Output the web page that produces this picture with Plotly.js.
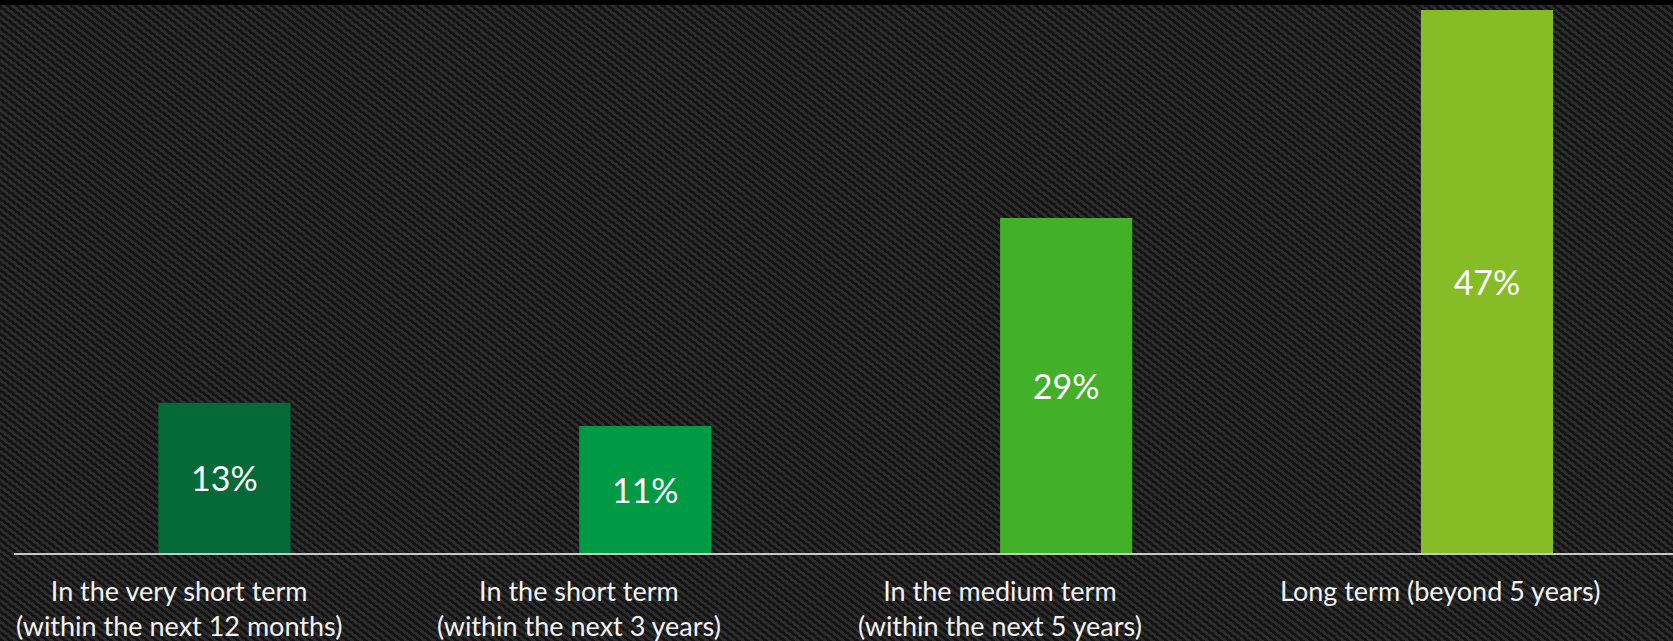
<!DOCTYPE html>
<html>
<head>
<meta charset="utf-8">
<script src="https://cdn.plot.ly/plotly-3.0.1.min.js"></script>
<style>
  html, body { margin: 0; padding: 0; background: #111; }
  #wrap {
    position: relative; width: 1673px; height: 641px; overflow: hidden;
    background: repeating-linear-gradient(38deg, #141414 0px, #141414 2.8px, #2d2d2d 2.8px, #2d2d2d 5.6px);
  }
  #topbar { position: absolute; left: 0; top: 0; width: 1673px; height: 5px; background: #000; z-index: 2; }
  #chart { position: absolute; left: 0; top: 0; width: 1673px; height: 641px; }
</style>
</head>
<body>
<div id="wrap">
  <div id="topbar"></div>
  <div id="chart"></div>
</div>
<script>
// ---- data ----
const categories = [
  "In the very short term<br>(within the next 12 months)",
  "In the short term<br>(within the next 3 years)",
  "In the medium term<br>(within the next 5 years)",
  "Long term (beyond 5 years)"
];
const values = [13, 11, 29, 47];
const valueLabels = ["13%", "11%", "29%", "47%"];
const barColors = ["#046A38", "#009A44", "#43B02A", "#86BC25"];

// ---- layout helpers (positions / styles) ----
const labelShift = [-45, -66, -66, -47];
const idx = categories.map((_, i) => i);

const trace = {
  type: "bar",
  x: idx,
  y: values,
  width: 0.314,
  marker: { color: barColors, line: { width: 0 } },
  text: valueLabels,
  textposition: "inside",
  insidetextanchor: "middle",
  textangle: 0,
  constraintext: "none",
  insidetextfont: { family: "Lato, 'Open Sans', sans-serif", size: 34, color: "#ffffff" },
  hoverinfo: "skip"
};

const annotations = categories.map((c, i) => ({
  xref: "x", yref: "paper",
  x: i, y: 0,
  xanchor: "center", yanchor: "top",
  xshift: labelShift[i], yshift: -19,
  text: c,
  showarrow: false,
  align: "center",
  font: { family: "Lato, 'Open Sans', sans-serif", size: 27, color: "#f2f2f2" }
}));

const layout = {
  width: 1673, height: 641,
  margin: { l: 14, r: 0, t: 10, b: 88, pad: 0 },
  paper_bgcolor: "rgba(0,0,0,0)",
  plot_bgcolor: "rgba(0,0,0,0)",
  showlegend: false,
  xaxis: {
    range: [-0.5, 3.442],
    showticklabels: false, ticks: "",
    showgrid: false, zeroline: false,
    showline: true, linecolor: "#c8c8c8", linewidth: 2,
    fixedrange: true
  },
  yaxis: {
    range: [0, 47],
    visible: false, showgrid: false, zeroline: false,
    fixedrange: true
  },
  annotations: annotations
};

Plotly.newPlot("chart", [trace], layout, { displayModeBar: false, staticPlot: true });
</script>
</body>
</html>
